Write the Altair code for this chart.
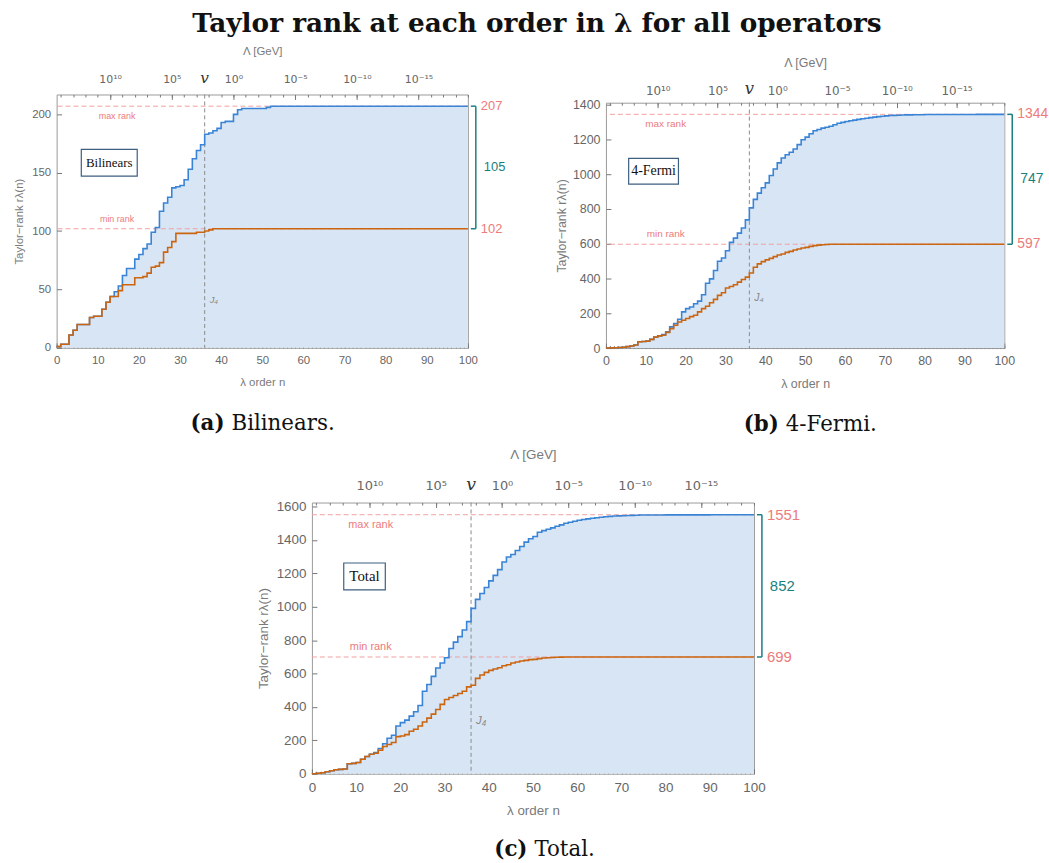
import altair as alt
import pandas as pd

# ---------------- data ----------------
orders = list(range(101))

bil_max = [1, 3, 3, 11, 15, 20, 20, 20, 26, 27, 27, 33, 39, 44, 48, 53, 62, 68, 68, 76,
           80, 85, 89, 99, 103, 117, 124, 129, 137, 138, 139, 144, 153, 162, 169, 174, 183, 184, 186, 188,
           193, 194, 194, 200, 204] + [205] * 6 + [206] + [207] * 49
bil_min = [1, 3, 3, 11, 15, 20, 20, 20, 26, 27, 27, 33, 39, 44, 44, 49, 54, 54, 54, 60,
           60, 61, 64, 69, 70, 73, 82, 86, 91, 98, 98, 98, 98, 98, 99, 99, 100, 101] + [102] * 63

fermi_max = [0, 1, 2, 3, 5, 8, 12, 18, 36, 38, 40, 50, 63, 70, 78, 93, 122, 141, 166, 208,
             227, 236, 255, 270, 307, 373, 398, 446, 499, 518, 560, 608, 632, 661, 690, 737, 806, 855, 891, 922,
             950, 992, 1030, 1065, 1093, 1112, 1126, 1145, 1170, 1198, 1213, 1232, 1250, 1257, 1265, 1270, 1276, 1284, 1293, 1298,
             1303, 1307, 1311, 1315, 1319, 1322, 1325, 1328, 1331, 1333, 1335, 1337, 1338, 1339, 1340, 1341, 1341, 1342, 1342, 1342] \
            + [1343] * 13 + [1344] * 8
fermi_min = [0, 1, 2, 3, 5, 8, 12, 18, 36, 38, 40, 50, 63, 70, 74, 90, 112, 131, 150, 160,
             170, 181, 189, 208, 227, 240, 261, 280, 303, 318, 345, 354, 364, 379, 394, 408, 432, 465, 484, 497,
             507, 516, 526, 535, 541, 550, 556, 564, 570, 575, 579, 585, 589, 592, 594, 596] + [597] * 45

tot_max = [0, 3, 6, 12, 18, 24, 26, 28, 60, 62, 67, 87, 103, 117, 127, 151, 179, 212, 230, 286,
           306, 321, 345, 371, 409, 494, 534, 583, 633, 663, 694, 750, 788, 821, 861, 911, 990, 1044, 1079, 1115,
           1155, 1188, 1222, 1268, 1298, 1313, 1337, 1361, 1387, 1407, 1421, 1446, 1456, 1464, 1472, 1482, 1490, 1500, 1506, 1512,
           1518, 1522, 1526, 1530, 1533, 1536, 1539, 1541, 1543, 1544, 1545, 1546, 1547, 1548] \
          + [1549] * 6 + [1550] * 10 + [1551] * 11
tot_min = [0, 3, 6, 12, 18, 24, 26, 28, 60, 62, 67, 87, 103, 117, 123, 141, 163, 175, 187, 222,
           226, 234, 254, 266, 286, 310, 333, 357, 385, 415, 444, 456, 468, 480, 494, 520, 530, 571, 591, 607,
           619, 627, 635, 647, 653, 663, 669, 675, 679, 683, 685, 689, 693, 694, 696, 697, 698] + [699] * 44

# top axis: energy scale Lambda [GeV] against order n
lam_major_n = [13, 28, 43, 58, 73, 88]
lam_major_labels = ["10¹⁰", "10⁵", "10⁰", "10⁻⁵", "10⁻¹⁰", "10⁻¹⁵"]
lam_minor_n = list(range(1, 101, 3))
v_order = 36

# ---------------- styling ----------------
BLUE = "#3a84d6"
ORANGE = "#cc6510"
FILL = "#d7e5f4"
RED_LINE = "#f2a0a0"
RED_TXT = "#ec7b7b"
TEAL = "#1a7f80"
LABEL_C = "#666666"
TITLE_C = "#7a7a7a"
SANS = "Liberation Sans"
SUPSANS = "DejaVu Sans"
SERIF = "DejaVu Serif"

top_expr = " : ".join(f"datum.value == {n} ? '{t}'" for n, t in zip(lam_major_n, lam_major_labels)) + " : ''"

panels = [
    dict(rmax=bil_max, rmin=bil_min, w=414, h=255, ytop=217, yticks=list(range(0, 201, 50)), fs=11.5,
         box=(6.0, 19.6, 170, 147), name="Bilinears", tag="(a)", cap="Bilinears.", split=-35,
         rank_n=14.7, j4y=41, ytp=7, xlp=7, xtp=10, tlp=10, ttp=17, vy=-17,
         spacer=("h", 96, "bottom")),
    dict(rmax=fermi_max, rmin=fermi_min, w=401, h=247, ytop=1411, yticks=list(range(0, 1401, 200)), fs=12.5,
         box=(5.7, 18.2, 1091, 943), name="4-Fermi", tag="(b)", cap="4-Fermi.", split=-23.5,
         rank_n=15, j4y=286, ytp=4, xlp=7, xtp=10, tlp=5, ttp=15, vy=-14, spacer=None),
    dict(rmax=tot_max, rmin=tot_min, w=445, h=273, ytop=1624, yticks=list(range(0, 1601, 200)), fs=13.5,
         box=(7.2, 16.6, 1262, 1101), name="Total", tag="(c)", cap="Total.", split=-2.5,
         rank_n=13.3, j4y=315, ytp=6, xlp=7, xtp=10, tlp=10, ttp=18, vy=-18, spacer=None),
]


def make_panel(cfg):
    df = pd.DataFrame({"n": orders, "rmax": cfg["rmax"], "rmin": cfg["rmin"]})
    one = pd.DataFrame({"k": [0]})
    w, h, fs = cfg["w"], cfg["h"], cfg["fs"]
    maxv, minv = cfg["rmax"][-1], cfg["rmin"][-1]
    xs = alt.Scale(domain=[0, 100], nice=False, zero=False)
    ys = alt.Scale(domain=[0, cfg["ytop"]], nice=False, zero=False)
    base = alt.Chart(df)

    def xaxis(**kw):
        d = dict(grid=False, labelFlush=False, labelOverlap=False, domain=False)
        d.update(kw)
        return alt.Axis(**d)

    def ghost(axis_x=None, axis_y=None):
        return base.mark_point(opacity=0).encode(
            x=alt.X("n:Q", scale=xs, axis=axis_x),
            y=alt.Y("rmax:Q", scale=ys, axis=axis_y),
        )

    area = base.mark_area(interpolate="step-after", color=FILL).encode(
        x=alt.X("n:Q", scale=xs, axis=xaxis(
            orient="bottom", values=list(range(0, 101, 10)), ticks=False, tickSize=0,
            labelPadding=cfg["xlp"], labelFontSize=fs, labelColor=LABEL_C, labelFont=SANS,
            title="λ order n", titleFontSize=fs, titleColor=TITLE_C, titleFont=SANS,
            titleFontWeight="normal", titlePadding=cfg["xtp"])),
        y=alt.Y("rmax:Q", scale=ys, axis=alt.Axis(
            orient="left", values=cfg["yticks"], format="d", ticks=False, tickSize=0, grid=False, domain=False,
            labelPadding=6, labelFontSize=fs, labelColor=LABEL_C, labelFont=SANS,
            title="Taylor−rank   rλ(n)", titleFontSize=fs, titleColor=TITLE_C, titleFont=SANS,
            titleFontWeight="normal", titlePadding=cfg["ytp"])),
    )

    bottom_major = ghost(xaxis(orient="bottom", values=list(range(0, 101, 10)), labels=False,
                               tickSize={"expr": "-5"}, tickColor="#777", title=None))
    bottom_minor = ghost(xaxis(orient="bottom", values=orders, labels=False,
                               tickSize={"expr": "-2.5"}, tickColor="#777", title=None))
    top_labels = ghost(xaxis(orient="top", values=lam_major_n, ticks=False, tickSize=0,
                             labelExpr=top_expr, labelPadding=cfg["tlp"], labelFontSize=fs - 0.5,
                             labelColor=LABEL_C, labelFont=SUPSANS,
                             title="Λ [GeV]", titleFontSize=fs, titleColor=TITLE_C, titleFont=SANS,
                             titleFontWeight="normal", titlePadding=cfg["ttp"]))
    top_major = ghost(xaxis(orient="top", values=lam_major_n, labels=False,
                            tickSize={"expr": "-5"}, tickColor="#777", title=None))
    top_minor = ghost(xaxis(orient="top", values=lam_minor_n, labels=False,
                            tickSize={"expr": "-2.5"}, tickColor="#777", title=None))
    y_ticks = base.mark_point(opacity=0).encode(
        x=alt.X("n:Q", scale=xs, axis=None),
        y=alt.Y("rmax:Q", scale=ys, axis=alt.Axis(
            orient="left", values=cfg["yticks"], labels=False, grid=False, domain=False,
            tickSize={"expr": "-5"}, tickColor="#777", title=None)),
    )

    blue = base.mark_line(interpolate="step-after", color=BLUE, strokeWidth=1.6).encode(
        x=alt.X("n:Q", scale=xs, axis=None), y=alt.Y("rmax:Q", scale=ys, axis=None))
    orange = base.mark_line(interpolate="step-after", color=ORANGE, strokeWidth=1.6).encode(
        x=alt.X("n:Q", scale=xs, axis=None), y=alt.Y("rmin:Q", scale=ys, axis=None))

    oc = alt.Chart(one)
    max_rule = oc.mark_rule(color=RED_LINE, strokeDash=[5, 3], strokeWidth=1).encode(
        y=alt.YDatum(maxv, scale=ys, axis=None))
    min_rule = oc.mark_rule(color=RED_LINE, strokeDash=[5, 3], strokeWidth=1).encode(
        y=alt.YDatum(minv, scale=ys, axis=None))
    v_rule = oc.mark_rule(color="#8a8a8a", strokeDash=[4, 3], strokeWidth=1).encode(
        x=alt.XDatum(v_order, scale=xs, axis=None))

    max_txt = oc.mark_text(text="max rank", font=SANS, fontSize=fs - 2.5, color=RED_TXT, dy=10).encode(
        x=alt.XDatum(cfg["rank_n"], scale=xs, axis=None), y=alt.YDatum(maxv, scale=ys, axis=None))
    min_txt = oc.mark_text(text="min rank", font=SANS, fontSize=fs - 2.5, color=RED_TXT, dy=-10).encode(
        x=alt.XDatum(cfg["rank_n"], scale=xs, axis=None), y=alt.YDatum(minv, scale=ys, axis=None))
    j4_txt = oc.mark_text(text="J₄", font=SANS, fontStyle="italic", fontSize=fs - 2, color="#888",
                          align="left", dx=5).encode(
        x=alt.XDatum(v_order, scale=xs, axis=None), y=alt.YDatum(cfg["j4y"], scale=ys, axis=None))
    v_txt = oc.mark_text(text="v", font=SERIF, fontStyle="italic", fontSize=fs + 4, color="#333").encode(
        x=alt.XDatum(v_order, scale=xs, axis=None), y=alt.value(cfg["vy"]))

    bx0, bx1, by0, by1 = cfg["box"]
    box = oc.mark_rect(fill="white", stroke="#3d5f80", strokeWidth=1.2).encode(
        x=alt.XDatum(bx0, scale=xs, axis=None), x2=alt.X2Datum(bx1),
        y=alt.YDatum(by0, scale=ys, axis=None), y2=alt.Y2Datum(by1))
    box_txt = oc.mark_text(text=cfg["name"], font="Liberation Serif", fontSize=fs + 1.5, color="#111").encode(
        x=alt.XDatum((bx0 + bx1) / 2, scale=xs, axis=None),
        y=alt.YDatum((by0 + by1) / 2, scale=ys, axis=None))

    max_lab = oc.mark_text(text=str(maxv), font=SANS, fontSize=fs + 1.5, color=RED_TXT, align="left").encode(
        x=alt.value(w + 13), y=alt.YDatum(maxv, scale=ys, axis=None))
    min_lab = oc.mark_text(text=str(minv), font=SANS, fontSize=fs + 1.5, color=RED_TXT, align="left").encode(
        x=alt.value(w + 13), y=alt.YDatum(minv, scale=ys, axis=None))
    gap_lab = oc.mark_text(text=str(maxv - minv), font=SANS, fontSize=fs + 1.5, color=TEAL, align="left").encode(
        x=alt.value(w + 16), y=alt.YDatum((maxv + minv) / 2, scale=ys, axis=None))
    brace_v = oc.mark_rule(color=TEAL, strokeWidth=1.5).encode(
        x=alt.value(w + 8), y=alt.YDatum(maxv, scale=ys, axis=None), y2=alt.Y2Datum(minv))
    brace_t = oc.mark_rule(color=TEAL, strokeWidth=1.5).encode(
        x=alt.value(w + 3), x2=alt.value(w + 8), y=alt.YDatum(maxv, scale=ys, axis=None))
    brace_b = oc.mark_rule(color=TEAL, strokeWidth=1.5).encode(
        x=alt.value(w + 3), x2=alt.value(w + 8), y=alt.YDatum(minv, scale=ys, axis=None))

    split = w / 2 + cfg["split"]
    cap_tag = oc.mark_text(text=cfg["tag"], font=SERIF, fontWeight="bold", fontSize=21.5, color="#111",
                           align="right").encode(x=alt.value(split - 3), y=alt.value(h + 77))
    cap_txt = oc.mark_text(text=cfg["cap"], font=SERIF, fontSize=21.5, color="#111",
                           align="left").encode(x=alt.value(split + 4), y=alt.value(h + 77))

    layers = [area, bottom_major, bottom_minor, top_labels, top_major, top_minor, y_ticks,
              max_rule, min_rule, v_rule, blue, orange, max_txt, min_txt, j4_txt, v_txt,
              box, box_txt, max_lab, min_lab, gap_lab, brace_v, brace_t, brace_b, cap_tag, cap_txt]
    if cfg["spacer"] is not None:
        # invisible layout spacer, only extends the panel's bounding box
        kind, off, bl = cfg["spacer"]
        sx, sy = (0, h + off) if kind == "h" else (w + off, 0)
        layers.append(oc.mark_text(text=".", opacity=0, align="left", baseline=bl).encode(
            x=alt.value(sx), y=alt.value(sy)))
    return alt.layer(*layers).resolve_axis(x="independent", y="independent").properties(width=w, height=h)


pa, pb, pc = [make_panel(c) for c in panels]

# invisible empty view that indents the bottom panel so it sits centred under the top row
indent = alt.Chart(pd.DataFrame({"k": [0]})).mark_point(opacity=0).encode(
    x=alt.value(0), y=alt.value(0)
).properties(width=200, height=1, view=alt.ViewBackground(strokeOpacity=0))

row1 = alt.hconcat(pa, pb, spacing=48, center=True)
row2 = alt.hconcat(indent, pc, spacing=0)
chart = alt.vconcat(row1, row2, spacing=3).properties(
    title=alt.TitleParams("Taylor rank at each order in λ for all operators", font=SERIF,
                          fontWeight="bold", fontSize=26.5, color="#111", anchor="middle",
                          offset=8, dx=6),
    padding={"left": 13, "top": 8, "right": 0, "bottom": 0},
).configure_view(stroke="#9a9a9a", strokeWidth=1)

chart.save("out.html", embed_options={"renderer": "svg", "actions": False})
